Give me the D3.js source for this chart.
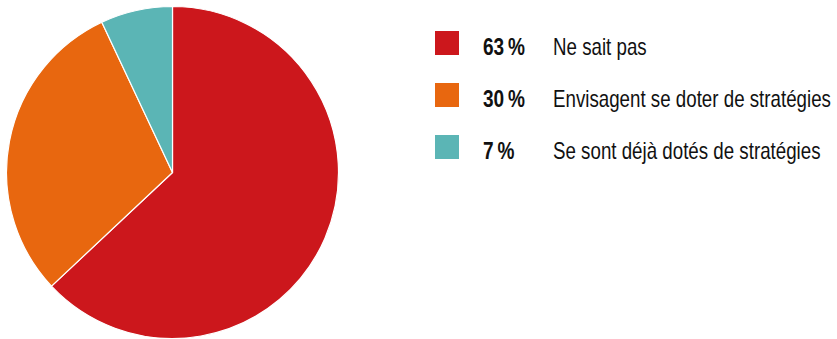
<!DOCTYPE html>
<html>
<head>
<meta charset="utf-8">
<script src="https://cdn.jsdelivr.net/npm/d3@7"></script>
<style>
  html, body { margin: 0; padding: 0; background: #fff; }
  svg { display: block; }
  .pct { font-family: "Liberation Sans", Arial, sans-serif; font-weight: bold; font-size: 23px; fill: #111; }
  .lbl { font-family: "Liberation Sans", Arial, sans-serif; font-size: 23px; fill: #111; }
</style>
</head>
<body>
<svg id="chart" width="837" height="339"></svg>
<script>
// Survey answers, shares in percent
const categories = ["Ne sait pas", "Envisagent se doter de stratégies", "Se sont déjà dotés de stratégies"];
const values = [63, 30, 7];
const colors = ["#CC171C", "#E8670F", "#5BB5B5"];

const svg = d3.select("#chart");
const cx = 172.5, cy = 172.5, radius = 166;

const pie = d3.pie().sort(null).value(d => d.value);
const arc = d3.arc().innerRadius(0).outerRadius(radius);
const data = categories.map((c, i) => ({ name: c, value: values[i], color: colors[i] }));

svg.append("g")
  .attr("transform", `translate(${cx},${cy})`)
  .selectAll("path")
  .data(pie(data))
  .join("path")
  .attr("d", arc)
  .attr("fill", d => d.data.color)
  .attr("stroke", "#fff")
  .attr("stroke-width", 1.2);

// Legend
const rowY = d3.scalePoint().domain(categories).range([43, 147]);
const legend = svg.append("g");
const row = legend.selectAll("g")
  .data(data)
  .join("g")
  .attr("transform", d => `translate(0,${rowY(d.name)})`);

row.append("rect")
  .attr("x", 435).attr("y", -12)
  .attr("width", 24).attr("height", 24)
  .attr("fill", d => d.color);

const pct = row.append("text")
  .attr("class", "pct")
  .text(d => `${d.value}\u2009%`);

const lbl = row.append("text")
  .attr("class", "lbl")
  .text(d => d.name);

// Condensed look: squeeze the text horizontally to a set width
const pctW = pct.nodes()[0].getComputedTextLength();
const kp = 42 / pctW;
pct.attr("transform", `translate(483,11.5) scale(${kp},1)`);

const lblW = d3.max(lbl.nodes(), n => n.getComputedTextLength());
const kl = 278 / lblW;
lbl.attr("transform", `translate(553,11.5) scale(${kl},1)`);
</script>
</body>
</html>
